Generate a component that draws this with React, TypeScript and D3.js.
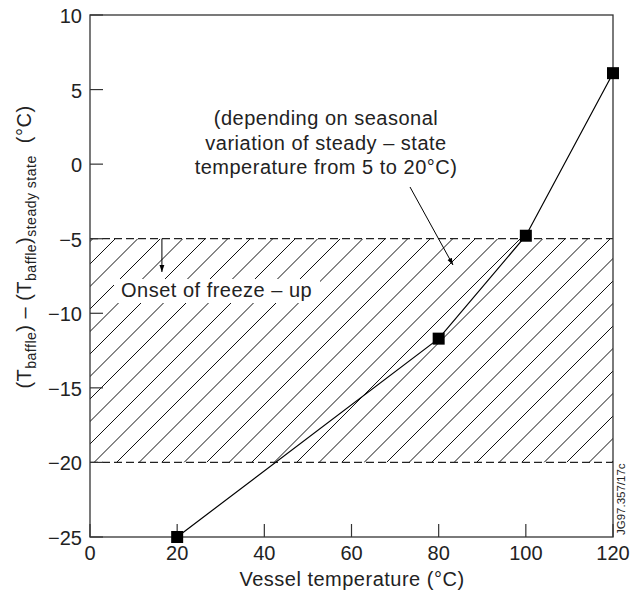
import React from "react";
import * as d3 from "d3";

const xValues = [20, 80, 100, 120];
const yValues = [-25, -11.7, -4.8, 6.1];
const xTicks = [0, 20, 40, 60, 80, 100, 120];
const yTicks = [10, 5, 0, -5, -10, -15, -20, -25];
const bandLimits = [-5, -20];
const annotationLines = [
  "(depending on seasonal",
  "variation of steady \u2013 state",
  "temperature from 5 to 20\u00B0C)",
];
const onsetLabel = "Onset of freeze \u2013 up";
const xLabel = "Vessel temperature (\u00B0C)";
const figureId = "JG97.357/17c";

const W = 643;
const H = 595;
const left = 90;
const right = 613;
const top = 15;
const bottom = 537;
const FONT = "'Liberation Sans', Arial, sans-serif";
const TXT = "#222";
const FS = 20;
const LS = 0.5;

export default function App() {
  const x = d3.scaleLinear().domain([0, 120]).range([left, right]);
  const y = d3.scaleLinear().domain([-25, 10]).range([bottom, top]);
  const line = d3
    .line<number>()
    .x((_, i) => x(xValues[i]))
    .y((d) => y(d));

  const yTop = y(bandLimits[0]);
  const yBot = y(bandLimits[1]);
  const spacing = 22.5;
  const c0 = 444;
  const hatch: number[] = [];
  for (let c = c0 - spacing * 40; c < c0 + spacing * 40; c += spacing) {
    if (c > left + yTop - spacing && c < right + yBot + spacing) hatch.push(c);
  }

  const onsetX = x(16.5);
  const annX = 326;
  const annY0 = 125;

  return (
    <svg
      width={W}
      height={H}
      style={{ position: "absolute", left: 0, top: 0, background: "#fff" }}
      fontFamily={FONT}
    >
      <defs>
        <clipPath id="band">
          <rect x={left} y={yTop} width={right - left} height={yBot - yTop} />
        </clipPath>
        <marker id="ah" viewBox="0 0 10 10" refX="10" refY="5" markerWidth="7" markerHeight="7" orient="auto">
          <path d="M0,1.5 L10,5 L0,8.5 z" fill="#000" />
        </marker>
      </defs>

      {/* hatch */}
      <g clipPath="url(#band)" stroke="#111" strokeWidth={1}>
        {hatch.map((c, i) => (
          <line key={i} x1={c - yBot} y1={yBot} x2={c - yTop} y2={yTop} />
        ))}
      </g>
      {bandLimits.map((b, i) => (
        <line
          key={i}
          x1={left}
          x2={right}
          y1={y(b)}
          y2={y(b)}
          stroke="#222"
          strokeWidth={1.2}
          strokeDasharray="8,4"
        />
      ))}

      {/* onset label with white background */}
      <rect x={114} y={279} width={206} height={24} fill="#fff" />
      <text x={121} y={297} fontSize={FS} letterSpacing={LS} fill={TXT}>
        {onsetLabel}
      </text>
      <line x1={onsetX} y1={yTop} x2={onsetX} y2={272} stroke="#000" strokeWidth={1} markerEnd="url(#ah)" />

      {/* annotation */}
      {annotationLines.map((t, i) => (
        <text key={i} x={annX} y={annY0 + i * 24.5} fontSize={FS} letterSpacing={LS} fill={TXT} textAnchor="middle">
          {t}
        </text>
      ))}
      <line x1={410} y1={187} x2={453} y2={265} stroke="#000" strokeWidth={1} markerEnd="url(#ah)" />

      {/* axes box */}
      <rect x={left} y={top} width={right - left} height={bottom - top} fill="none" stroke="#333" strokeWidth={1.3} />
      {yTicks.map((t) => (
        <g key={t}>
          <line x1={left} x2={left + 13} y1={y(t)} y2={y(t)} stroke="#333" strokeWidth={1.2} />
          <text x={left - 8} y={y(t) + 8} fontSize={FS} fill={TXT} textAnchor="end">
            {t < 0 ? "\u2212" + Math.abs(t) : t}
          </text>
        </g>
      ))}
      {xTicks.map((t) => (
        <g key={t}>
          <line x1={x(t)} x2={x(t)} y1={bottom} y2={bottom - 13} stroke="#333" strokeWidth={1.2} />
          <text x={x(t)} y={560} fontSize={FS} fill={TXT} textAnchor="middle">
            {t}
          </text>
        </g>
      ))}

      {/* data */}
      <path d={line(yValues) || ""} fill="none" stroke="#000" strokeWidth={1.2} />
      {yValues.map((v, i) => (
        <rect key={i} x={x(xValues[i]) - 6} y={y(v) - 6} width={12} height={12} fill="#000" />
      ))}

      {/* labels */}
      <text x={352} y={586} fontSize={FS} letterSpacing={LS} fill={TXT} textAnchor="middle">
        {xLabel}
      </text>
      <text transform="translate(31,247) rotate(-90)" fontSize={FS} letterSpacing={LS} fill={TXT} textAnchor="middle">
        <tspan>(T</tspan>
        <tspan fontSize={14} dy={5}>baffle</tspan>
        <tspan dy={-5}>{") \u2013 (T"}</tspan>
        <tspan fontSize={14} dy={5}>baffle</tspan>
        <tspan dy={-5}>)</tspan>
        <tspan fontSize={14} dy={5}>steady state</tspan>
        <tspan dy={-5}>{"\u00A0\u00A0(\u00B0C)"}</tspan>
      </text>
      <text transform="translate(625,535) rotate(-90)" fontSize={11.5} fill={TXT}>
        {figureId}
      </text>
    </svg>
  );
}
